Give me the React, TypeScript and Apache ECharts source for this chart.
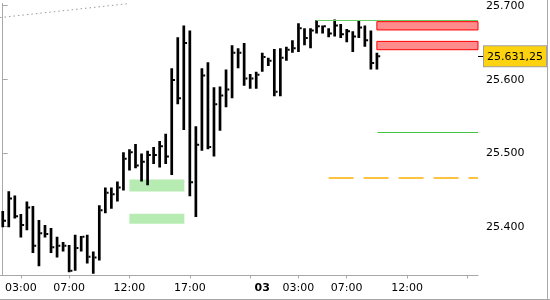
import React, { useEffect, useRef } from "react";
import * as echarts from "echarts";

// 30-minute HLC bars (index 0 = 01:30 day 1, index 43 = 00:00 day "03")
const highs = [
  25.421, 25.448, 25.442, 25.417, 25.434, 25.428, 25.409, 25.402, 25.398, 25.386,
  25.379, 25.375, 25.389, 25.387, 25.389, 25.366, 25.429, 25.453, 25.453, 25.461,
  25.501, 25.505, 25.512, 25.499, 25.503, 25.508, 25.516, 25.526, 25.615, 25.657,
  25.673, 25.666, 25.536, 25.615, 25.623, 25.589, 25.590, 25.613, 25.646, 25.642,
  25.649, 25.607, 25.610, 25.636, 25.629, 25.641, 25.642, 25.644, 25.653, 25.676,
  25.669, 25.669, 25.680, 25.673, 25.669, 25.681, 25.675, 25.668, 25.665, 25.679,
  25.673, 25.666, 25.636,
];
const lows = [
  25.399, 25.399, 25.411, 25.385, 25.395, 25.364, 25.346, 25.385, 25.364, 25.358,
  25.366, 25.338, 25.340, 25.366, 25.350, 25.336, 25.354, 25.418, 25.424, 25.434,
  25.449, 25.476, 25.479, 25.461, 25.456, 25.485, 25.480, 25.485, 25.470, 25.566,
  25.531, 25.441, 25.413, 25.503, 25.505, 25.495, 25.530, 25.562, 25.574, 25.615,
  25.591, 25.587, 25.587, 25.610, 25.618, 25.577, 25.577, 25.625, 25.636, 25.637,
  25.646, 25.642, 25.662, 25.662, 25.657, 25.658, 25.656, 25.650, 25.637, 25.656,
  25.644, 25.613, 25.613,
];
const closes = [
  25.408, 25.438, 25.414, 25.402, 25.426, 25.374, 25.391, 25.390, 25.372, 25.374,
  25.374, 25.340, 25.371, 25.386, 25.359, 25.358, 25.422, 25.446, 25.444, 25.453,
  25.492, 25.501, 25.483, 25.488, 25.497, 25.497, 25.509, 25.495, 25.599, 25.574,
  25.649, 25.460, 25.511, 25.605, 25.508, 25.566, 25.578, 25.586, 25.636, 25.636,
  25.601, 25.601, 25.606, 25.630, 25.625, 25.583, 25.629, 25.640, 25.642, 25.669,
  25.656, 25.666, 25.672, 25.672, 25.662, 25.673, 25.661, 25.665, 25.658, 25.670,
  25.653, 25.622, 25.63125,
];

// x-axis ticks / labels (bar index positions)
const tickIdx = [3, 11, 21, 31, 41, 49, 57, 67, 77];
const labelIdx = [3, 11, 21, 31, 43, 49, 57, 67];
const labelText = ["03:00", "07:00", "12:00", "17:00", "03", "03:00", "07:00", "12:00"];
const yTicks = [25.4, 25.5, 25.6, 25.7];
const lastPriceText = "25.631,25";

// zones and levels
const greenZones = [
  [21, 30.1, 25.4638, 25.4477],
  [21, 30.1, 25.4172, 25.4038],
];
const redZones = [
  [62, 25.6781, 25.6668],
  [62, 25.6513, 25.640],
];
const sessionHigh = { from: 52, price: 25.6803 };
const greenLevel = { from: 62.1, price: 25.5282 };
const orangeLevel = { from: 54, price: 25.4664 };
const trendLine = [[-0.44, 25.6836], [20.9, 25.7026]];

const X_MIN = -0.446;
const X_MAX = 78.76;
const Y_MIN = 25.33356;
const Y_MAX = 25.70268;

export default function App() {
  const ref = useRef<HTMLDivElement>(null);
  useEffect(() => {
    if (!ref.current) return;
    const chart = echarts.init(ref.current, undefined, { renderer: "svg" });
    const data = highs.map((h, i) => [i, h, lows[i], closes[i]]);
    const font = "DejaVu Sans";
    const lastClose = closes[closes.length - 1];
    const xEnd = X_MAX - 0.001;

    const option: any = {
      animation: false,
      grid: { left: 0, top: 0, width: 480, height: 275.5 },
      xAxis: {
        type: "value",
        min: X_MIN,
        max: X_MAX,
        splitLine: { show: false },
        axisLine: { show: true, lineStyle: { color: "#a8a8a8", width: 1 } },
        axisTick: { show: true, customValues: tickIdx, length: 3, lineStyle: { color: "#a8a8a8" } },
        axisLabel: {
          customValues: labelIdx,
          margin: 6,
          color: "#000",
          fontFamily: font,
          fontSize: 11,
          formatter: (v: number) => {
            const k = labelIdx.indexOf(Math.round(v));
            if (k < 0) return "";
            const t = labelText[k];
            return t.length === 2 ? "{b|" + t + "}" : t;
          },
          rich: { b: { fontWeight: "bold", fontFamily: font, fontSize: 11, color: "#000" } },
        },
      },
      yAxis: [
        {
          type: "value",
          position: "right",
          min: Y_MIN,
          max: Y_MAX,
          splitLine: { show: false },
          axisLine: { show: true, lineStyle: { color: "#a8a8a8" } },
          axisTick: { show: true, customValues: yTicks, length: 5, lineStyle: { color: "#a8a8a8" } },
          axisLabel: {
            customValues: yTicks,
            margin: 8,
            color: "#000",
            fontFamily: font,
            fontSize: 11,
            formatter: (v: number) => v.toFixed(3),
          },
        },
        {
          type: "value",
          position: "right",
          min: Y_MIN,
          max: Y_MAX,
          splitLine: { show: false },
          axisLine: { show: false },
          axisTick: { show: true, customValues: [lastClose], length: 5, lineStyle: { color: "#000", width: 1 } },
          axisLabel: {
            customValues: [lastClose],
            margin: 6,
            color: "#000",
            fontFamily: font,
            fontSize: 11,
            formatter: () => lastPriceText,
            backgroundColor: "#fdd20e",
            borderColor: "#a0a0a0",
            borderWidth: 1,
            padding: [5, 3, 4, 3],
          },
        },
      ],
      graphic: [
        { type: "line", shape: { x1: 547.5, y1: 0, x2: 547.5, y2: 300 }, style: { stroke: "#a8a8a8", lineWidth: 1 }, z: -1 },
        { type: "line", shape: { x1: 0, y1: 299.5, x2: 550, y2: 299.5 }, style: { stroke: "#a8a8a8", lineWidth: 1 }, z: -1 },
      ],
      series: [
        {
          type: "custom",
          clip: true,
          encode: { x: 0, y: [1, 2, 3] },
          data,
          renderItem: (params: any, api: any) => {
            const i = api.value(0);
            const hi = api.coord([i, api.value(1)]);
            const lo = api.coord([i, api.value(2)]);
            const cl = api.coord([i, api.value(3)]);
            return {
              type: "group",
              children: [
                {
                  type: "rect",
                  shape: { x: hi[0] - 1.3, y: hi[1], width: 2.7, height: Math.max(1, lo[1] - hi[1]) },
                  style: { fill: "#000" },
                },
                {
                  type: "rect",
                  shape: { x: cl[0] + 1.3, y: cl[1] - 1, width: 2, height: 2 },
                  style: { fill: "#000" },
                },
              ],
            };
          },
          markArea: {
            silent: true,
            label: { show: false },
            data: [
              ...greenZones.map((z) => [
                { coord: [z[0], z[2]], itemStyle: { color: "#b6ecb2", borderWidth: 0 } },
                { coord: [z[1], z[3]] },
              ]),
              ...redZones.map((z) => [
                { coord: [z[0], z[1]], itemStyle: { color: "#ff8c8c", borderColor: "#ff0000", borderWidth: 1 } },
                { coord: [xEnd, z[2]] },
              ]),
            ],
          },
          markLine: {
            silent: true,
            symbol: "none",
            label: { show: false },
            data: [
              [
                { coord: [sessionHigh.from, sessionHigh.price], lineStyle: { color: "#66cc66", width: 1, type: "solid" } },
                { coord: [xEnd, sessionHigh.price] },
              ],
              [
                { coord: [greenLevel.from, greenLevel.price], lineStyle: { color: "#44c444", width: 1, type: "solid" } },
                { coord: [xEnd, greenLevel.price] },
              ],
              [
                { coord: [orangeLevel.from, orangeLevel.price], lineStyle: { color: "#ffb000", width: 1.5, type: [25, 10], opacity: 1 } },
                { coord: [xEnd, orangeLevel.price] },
              ],
              [
                { coord: trendLine[0], lineStyle: { color: "#9a9a9a", width: 1, type: [1.5, 3] } },
                { coord: trendLine[1] },
              ],
            ],
          },
        },
      ],
    };
    chart.setOption(option);
    return () => chart.dispose();
  }, []);
  return <div ref={ref} style={{ position: "fixed", left: 0, top: 0, width: 550, height: 300 }} />;
}
